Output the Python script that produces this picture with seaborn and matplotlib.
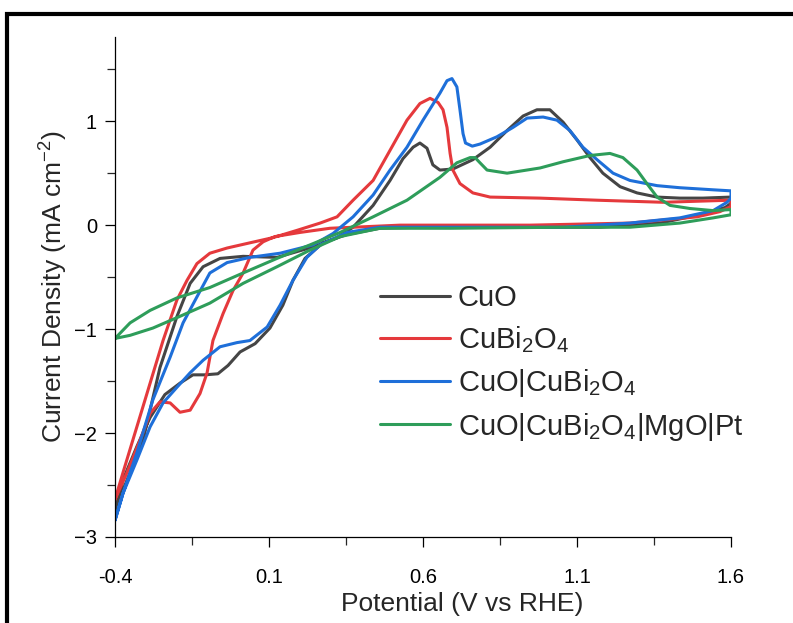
import matplotlib
matplotlib.use("Agg")
import matplotlib.pyplot as plt
import pandas as pd
import seaborn as sns
from matplotlib.patches import Rectangle

# Cyclic voltammograms (potential in V vs RHE, current in mA cm-2)
cuo_v = [-0.400, -0.309, -0.254, -0.199, -0.156, -0.114, -0.059, 0.016, 0.126, 0.243, 0.321, 0.373,
         0.438, 0.493, 0.535, 0.568, 0.590, 0.613, 0.632, 0.655, 0.697, 0.762, 0.818, 0.873, 0.925,
         0.970, 1.012, 1.055, 1.100, 1.142, 1.184, 1.240, 1.295, 1.360, 1.434, 1.509, 1.600,
         1.600, 1.581, 1.499, 1.370, 1.175, 0.850, 0.590, 0.460, 0.353, 0.275, 0.217, 0.178, 0.145,
         0.103, 0.055, 0.006, -0.033, -0.066, -0.108, -0.147, -0.189, -0.238, -0.286, -0.329, -0.374,
         -0.400]
cuo_j = [-2.74, -2.07, -1.37, -0.88, -0.56, -0.40, -0.32, -0.30, -0.31, -0.21, -0.12, -0.02,
         0.19, 0.43, 0.64, 0.75, 0.79, 0.74, 0.58, 0.53, 0.54, 0.63, 0.75, 0.91, 1.05,
         1.11, 1.11, 0.99, 0.82, 0.65, 0.50, 0.37, 0.31, 0.27, 0.26, 0.26, 0.27,
         0.21, 0.17, 0.10, 0.02, -0.02, -0.02, -0.02, -0.03, -0.09, -0.17, -0.32, -0.53, -0.77,
         -0.99, -1.14, -1.22, -1.35, -1.43, -1.44, -1.44, -1.52, -1.63, -1.85, -2.13, -2.45,
         -2.74]

cubi_v = [-0.400, -0.374, -0.329, -0.286, -0.244, -0.199, -0.166, -0.134, -0.092, -0.036, 0.038,
          0.113, 0.191, 0.266, 0.321, 0.373, 0.438, 0.493, 0.548, 0.590, 0.623, 0.649, 0.665,
          0.678, 0.688, 0.697, 0.720, 0.762, 0.818, 0.980, 1.165, 1.379, 1.600,
          1.600, 1.564, 1.490, 1.272, 0.947, 0.525, 0.298, 0.201, 0.119, 0.081, 0.048, 0.016,
          -0.017, -0.049, -0.082, -0.101, -0.124, -0.156, -0.189, -0.221, -0.254, -0.286, -0.319,
          -0.361, -0.400]
cubi_j = [-2.64, -2.38, -1.94, -1.52, -1.11, -0.72, -0.53, -0.37, -0.27, -0.22, -0.17,
          -0.12, -0.05, 0.02, 0.08, 0.24, 0.43, 0.72, 1.01, 1.17, 1.22, 1.18, 1.11,
          0.94, 0.69, 0.53, 0.40, 0.31, 0.27, 0.26, 0.24, 0.22, 0.24,
          0.18, 0.13, 0.08, 0.02, 0.00, 0.00, -0.03, -0.07, -0.11, -0.16, -0.24, -0.46,
          -0.63, -0.85, -1.11, -1.42, -1.62, -1.78, -1.80, -1.71, -1.70, -1.81, -2.07,
          -2.38, -2.64]

bilayer_v = [-0.400, -0.374, -0.329, -0.277, -0.221, -0.179, -0.134, -0.092, -0.036, 0.038, 0.136,
             0.243, 0.308, 0.373, 0.438, 0.493, 0.548, 0.600, 0.655, 0.678, 0.694, 0.710, 0.720,
             0.730, 0.738, 0.760, 0.785, 0.840, 0.892, 0.938, 0.990, 1.035, 1.077, 1.119, 1.165,
             1.217, 1.272, 1.360, 1.434, 1.542, 1.600,
             1.600, 1.587, 1.542, 1.434, 1.272, 1.055, 0.688, 0.460, 0.353, 0.266, 0.223, 0.178,
             0.136, 0.094, 0.038, -0.004, -0.059, -0.114, -0.156, -0.199, -0.244, -0.286, -0.329,
             -0.374, -0.400]
bilayer_j = [-2.84, -2.58, -2.19, -1.68, -1.27, -0.94, -0.69, -0.46, -0.36, -0.31, -0.27,
             -0.19, -0.08, 0.08, 0.29, 0.53, 0.75, 1.01, 1.27, 1.39, 1.41, 1.33, 1.11,
             0.88, 0.79, 0.76, 0.78, 0.85, 0.94, 1.03, 1.04, 1.01, 0.91, 0.75, 0.63,
             0.50, 0.43, 0.38, 0.36, 0.34, 0.33,
             0.26, 0.22, 0.14, 0.07, 0.02, -0.02, -0.02, -0.02, -0.07, -0.19, -0.31, -0.53,
             -0.77, -0.98, -1.11, -1.13, -1.17, -1.30, -1.42, -1.56, -1.71, -1.94, -2.26,
             -2.58, -2.84]

stack_v = [-0.400, -0.351, -0.286, -0.199, -0.092, 0.016, 0.126, 0.233, 0.331, 0.438, 0.548,
           0.655, 0.710, 0.753, 0.769, 0.785, 0.808, 0.873, 0.980, 1.055, 1.142, 1.207, 1.249,
           1.295, 1.327, 1.360, 1.402, 1.467, 1.542, 1.600,
           1.600, 1.542, 1.434, 1.272, 1.055, 0.688, 0.460, 0.331, 0.233, 0.126, 0.016, -0.092,
           -0.199, -0.277, -0.351, -0.400]
stack_j = [-1.09, -0.94, -0.82, -0.70, -0.60, -0.46, -0.32, -0.19, -0.07, 0.08, 0.24,
           0.46, 0.60, 0.65, 0.65, 0.60, 0.53, 0.50, 0.55, 0.61, 0.67, 0.69, 0.65,
           0.53, 0.40, 0.27, 0.19, 0.16, 0.14, 0.15,
           0.10, 0.07, 0.02, -0.02, -0.02, -0.03, -0.03, -0.11, -0.24, -0.40, -0.56, -0.75,
           -0.89, -0.99, -1.06, -1.09]

labels = ["CuO", r"CuBi$_\mathregular{2}$O$_\mathregular{4}$",
          r"CuO|CuBi$_\mathregular{2}$O$_\mathregular{4}$",
          r"CuO|CuBi$_\mathregular{2}$O$_\mathregular{4}$|MgO|Pt"]
colors = ["#454545", "#e5393c", "#1e6fd9", "#2e9d5a"]
x_ticks = [-0.4, 0.1, 0.6, 1.1, 1.6]
x_tick_labels = ["-0.4", "0.1", "0.6", "1.1", "1.6"]


def main():
    sns.set_style("ticks")
    plt.rcParams["font.family"] = ["Liberation Sans", "DejaVu Sans"]
    plt.rcParams["mathtext.fontset"] = "custom"
    plt.rcParams["mathtext.rm"] = "Liberation Sans"

    frames = []
    for name, v, j in zip(labels, [cuo_v, cubi_v, bilayer_v, stack_v], [cuo_j, cubi_j, bilayer_j, stack_j]):
        frames.append(pd.DataFrame({"Potential": v, "Current": j, "Sample": name, "step": range(len(v))}))
    df = pd.concat(frames, ignore_index=True)

    fig = plt.figure(figsize=(7.93, 6.23), dpi=100)
    ax = fig.add_axes([115 / 793, 1 - 537 / 623, 616 / 793, 500 / 623])

    sns.lineplot(data=df, x="Potential", y="Current", hue="Sample", units="Sample", estimator=None,
                 sort=False, palette=dict(zip(labels, colors)), linewidth=2.2, ax=ax)

    ax.set_xlim(-0.4, 1.6)
    ax.set_ylim(-3, 1.81)
    ax.set_xticks(x_ticks)
    ax.set_xticklabels(x_tick_labels)
    ax.set_xticks([-0.15, 0.35, 0.85, 1.35], minor=True)
    ax.set_yticks([-3, -2, -1, 0, 1])
    ax.set_yticks([-2.5, -1.5, -0.5, 0.5, 1.5], minor=True)
    ax.tick_params(axis="both", which="major", length=7, width=0.9, labelsize=14.5, colors="black")
    ax.tick_params(axis="both", which="minor", length=6, width=0.9)
    ax.tick_params(axis="x", which="major", pad=15)
    ax.tick_params(axis="y", which="major", pad=6)
    for side in ["left", "bottom"]:
        ax.spines[side].set_linewidth(0.9)
        ax.spines[side].set_color("black")
    sns.despine(ax=ax)

    ax.set_xlabel("Potential (V vs RHE)", fontsize=19)
    ax.set_ylabel(r"Current Density (mA cm$^{\mathregular{-2}}$)", fontsize=19)
    ax.xaxis.set_label_coords(0.563, -0.11)
    ax.yaxis.set_label_coords(-0.075, 0.5)

    ax.legend(frameon=False, fontsize=21, loc="upper left", bbox_to_anchor=(380 / 793, 1 - 284 / 623),
              bbox_transform=fig.transFigure, borderpad=0, borderaxespad=0, handlelength=2.4,
              handletextpad=0.27, labelspacing=0.41)

    # thick frame around the figure, open at bottom and right
    fig.add_artist(Rectangle((7 / 793, -0.5), 2.0, 0.5 + 1 - 14 / 623, transform=fig.transFigure,
                             fill=False, edgecolor="black", linewidth=3, clip_on=False))

    fig.savefig("out.png", dpi=100)


if __name__ == "__main__":
    main()
